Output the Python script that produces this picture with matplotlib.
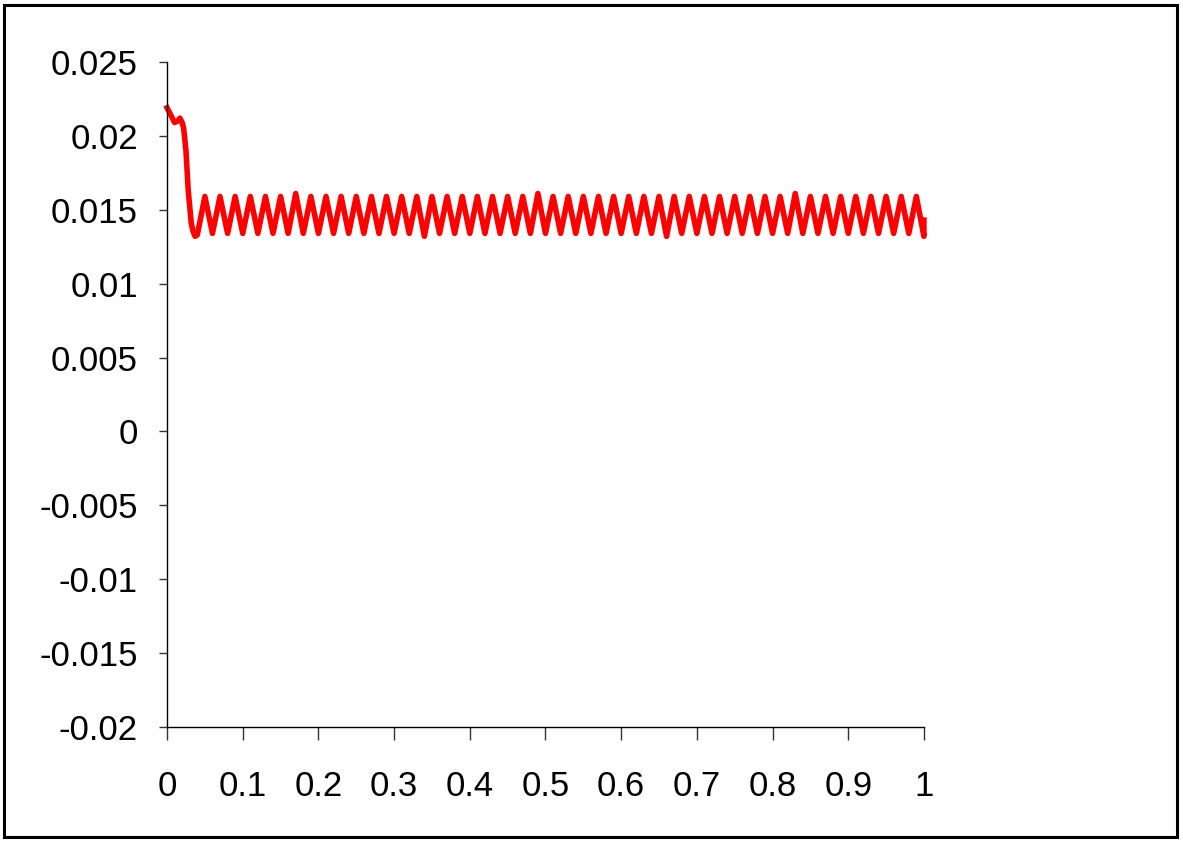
import matplotlib
matplotlib.use('Agg')
import matplotlib.pyplot as plt
from matplotlib.patches import Rectangle

plt.rcParams['font.family'] = ['Liberation Sans', 'DejaVu Sans']

# start-up transient (time, value)
start_t = [0.0, 0.005, 0.010, 0.014, 0.017, 0.020, 0.022, 0.025, 0.028, 0.030, 0.032, 0.034, 0.037, 0.040]
start_y = [0.0219, 0.0214, 0.0209, 0.0210, 0.0212, 0.0209, 0.0205, 0.0190, 0.0163, 0.0152, 0.0141, 0.0136, 0.0132, 0.0133]

# steady oscillation: alternating peaks and troughs
osc_t = [0.05, 0.06, 0.07, 0.08, 0.09, 0.10, 0.11, 0.12, 0.13, 0.14,
         0.15, 0.16, 0.17, 0.18, 0.19, 0.20, 0.21, 0.22, 0.23, 0.24,
         0.25, 0.26, 0.27, 0.28, 0.29, 0.30, 0.31, 0.32, 0.33, 0.34,
         0.35, 0.36, 0.37, 0.38, 0.39, 0.40, 0.41, 0.42, 0.43, 0.44,
         0.45, 0.46, 0.47, 0.48, 0.49, 0.50, 0.51, 0.52, 0.53, 0.54,
         0.55, 0.56, 0.57, 0.58, 0.59, 0.60, 0.61, 0.62, 0.63, 0.64,
         0.65, 0.66, 0.67, 0.68, 0.69, 0.70, 0.71, 0.72, 0.73, 0.74,
         0.75, 0.76, 0.77, 0.78, 0.79, 0.80, 0.81, 0.82, 0.83, 0.84,
         0.85, 0.86, 0.87, 0.88, 0.89, 0.90, 0.91, 0.92, 0.93, 0.94,
         0.95, 0.96, 0.97, 0.98, 0.99, 1.00]
osc_y = [0.0159, 0.0134, 0.0159, 0.0134, 0.0159, 0.0134, 0.0159, 0.0134, 0.0159, 0.0134,
         0.0159, 0.0134, 0.0161, 0.0134, 0.0159, 0.0134, 0.0159, 0.0134, 0.0159, 0.0134,
         0.0159, 0.0134, 0.0159, 0.0134, 0.0159, 0.0134, 0.0159, 0.0134, 0.0159, 0.0132,
         0.0159, 0.0134, 0.0159, 0.0134, 0.0159, 0.0134, 0.0159, 0.0134, 0.0159, 0.0134,
         0.0159, 0.0134, 0.0159, 0.0134, 0.0161, 0.0134, 0.0159, 0.0134, 0.0159, 0.0134,
         0.0159, 0.0134, 0.0159, 0.0134, 0.0159, 0.0134, 0.0159, 0.0134, 0.0159, 0.0134,
         0.0159, 0.0132, 0.0159, 0.0134, 0.0159, 0.0134, 0.0159, 0.0134, 0.0159, 0.0134,
         0.0159, 0.0134, 0.0159, 0.0134, 0.0159, 0.0134, 0.0159, 0.0134, 0.0161, 0.0134,
         0.0159, 0.0134, 0.0159, 0.0134, 0.0159, 0.0134, 0.0159, 0.0134, 0.0159, 0.0134,
         0.0159, 0.0134, 0.0159, 0.0134, 0.0159, 0.0132]
end_t = [1.0]
end_y = [0.0143]

x_ticks = [0, 0.1, 0.2, 0.3, 0.4, 0.5, 0.6, 0.7, 0.8, 0.9, 1]
x_labels = ['0', '0.1', '0.2', '0.3', '0.4', '0.5', '0.6', '0.7', '0.8', '0.9', '1']
y_ticks = [-0.02, -0.015, -0.01, -0.005, 0, 0.005, 0.01, 0.015, 0.02, 0.025]
y_labels = ['-0.02', '-0.015', '-0.01', '-0.005', '0', '0.005', '0.01', '0.015', '0.02', '0.025']

fig = plt.figure(figsize=(11.83, 8.42), dpi=100)
ax = fig.add_axes([0.1412, 0.1366, 0.6398, 0.7898])

t = start_t + osc_t + end_t
y = start_y + osc_y + end_y
ax.plot(t, y, color='#FF0000', lw=4.0, solid_joinstyle='round', clip_on=False)

ax.set_xlim(0, 1)
ax.set_ylim(-0.02, 0.025)
ax.set_xticks(x_ticks)
ax.set_xticklabels(x_labels)
ax.set_yticks(y_ticks)
ax.set_yticklabels(y_labels)

for s in ['top', 'right']:
    ax.spines[s].set_visible(False)
for s in ['left', 'bottom']:
    ax.spines[s].set_color('black')
    ax.spines[s].set_linewidth(1.0)

ax.tick_params(axis='y', direction='out', length=6, width=1, color='#333333',
               labelsize=25, pad=15)
ax.tick_params(axis='x', direction='out', length=9, width=1, color='#333333',
               labelsize=25, pad=22)

# outer frame around the whole chart
fig.patches.append(Rectangle((0.0038, 0.006), 0.991, 0.988, transform=fig.transFigure,
                             fill=False, edgecolor='black', lw=2.2))

fig.savefig('out.png', dpi=100)
